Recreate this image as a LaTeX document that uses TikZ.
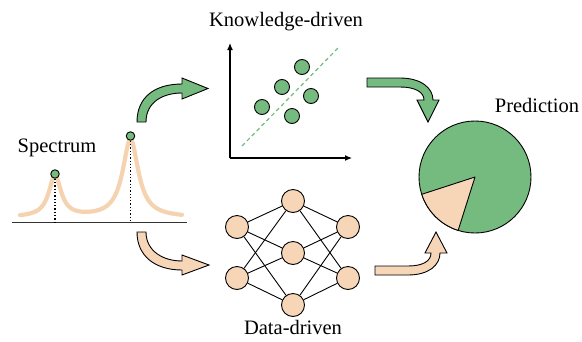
\documentclass[tikz,border=0pt]{standalone}
\usepackage{fontspec}
\setmainfont{Liberation Serif}
\usepackage{tikz}
\usetikzlibrary{arrows.meta}
\definecolor{leafgreen}{RGB}{117,186,126}
\definecolor{peach}{RGB}{247,214,184}
\definecolor{peachline}{RGB}{245,211,176}
\tikzset{
  lbl/.style={font=\fontsize{20.5}{24}\selectfont},
  dot/.style={circle,draw=black,fill=leafgreen,line width=0.9pt,minimum size=15pt,inner sep=0pt},
  peak/.style={circle,draw=black,fill=leafgreen,line width=0.9pt,minimum size=8.5pt,inner sep=0pt},
  neuron/.style={circle,draw=black,fill=peach,line width=0.9pt,minimum size=23pt,inner sep=0pt},
  blockarrow/.style={draw=black,line width=0.9pt,line join=miter}
}
\begin{document}
\begin{tikzpicture}[x=1pt,y=-1pt]
  \useasboundingbox (0,0) rectangle (582,341);
  % labels
  \node[lbl] (spec) at (57,148) {Spectrum};
  \node[lbl] (know) at (286,22) {Knowledge-driven};
  \node[lbl] (data) at (293,327) {Data-driven};
  \node[lbl] (pred) at (537,105) {Prediction};

  % spectrum
  \draw[line width=1.4pt,black!80] (12,222.5) -- (187,222.5);
  \draw[peachline,line width=4.2pt,line cap=round,smooth,samples=200,domain=20:182]
    plot (\x,{217.5-41/(1+((\x-55)/7.5)^2)-78/(1+((\x-130.5)/9.5)^2)});
  \node[peak] (p1) at (55,174) {};
  \node[peak] (p2) at (130.5,136) {};
  \coordinate (b1) at (55,222);
  \coordinate (b2) at (130.5,222);
  \draw[dotted,line width=1.3pt] (p1) -- (b1);
  \draw[dotted,line width=1.3pt] (p2) -- (b2);

  % block arrows
  \filldraw[blockarrow,fill=leafgreen] (137,122) .. controls (137,97) and (155,84) .. (182,84)
    -- (182,78) -- (208,88.5) -- (182,99) -- (182,93)
    .. controls (163,93) and (146,102) .. (146,122) -- cycle;
  \filldraw[blockarrow,fill=peach] (137,232) .. controls (137,256) and (155,270) .. (182,270)
    -- (182,275) -- (209,265) -- (182,255) -- (182,261)
    .. controls (163,261) and (146,251) .. (146,232) -- cycle;
  \filldraw[blockarrow,fill=leafgreen] (367,78) -- (400,78) .. controls (421,78) and (433,88) .. (433,100)
    -- (439,100) -- (428,122) -- (417,100) -- (424,100)
    .. controls (424,92) and (415,87) .. (400,87) -- (367,87) -- cycle;
  \filldraw[blockarrow,fill=peach] (375,275) -- (408,275) .. controls (429,275) and (440,265) .. (440,253)
    -- (447,253) -- (436,232) -- (425,253) -- (431,253)
    .. controls (431,261) and (423,266) .. (408,266) -- (375,266) -- cycle;

  % knowledge-driven scatter
  \coordinate (o) at (230,158);
  \coordinate (ytop) at (230,43);
  \coordinate (xend) at (352,158);
  \draw[line width=1.1pt,-{Latex[length=7pt,width=6pt]}] (o) -- (ytop);
  \draw[line width=1.1pt,-{Latex[length=7pt,width=6pt]}] (o) -- (xend);
  \coordinate (fit0) at (242,146);
  \coordinate (fit1) at (338,48);
  \draw[leafgreen,line width=1.2pt,dash pattern=on 4pt off 3pt] (fit0) -- (fit1);
  \node[dot] (s1) at (302,67) {};
  \node[dot] (s2) at (282,87) {};
  \node[dot] (s3) at (311,96) {};
  \node[dot] (s4) at (262,107) {};
  \node[dot] (s5) at (292,116) {};

  % data-driven network
  \node[neuron] (l1) at (237,227) {};
  \node[neuron] (l2) at (237,278) {};
  \node[neuron] (m1) at (293,201) {};
  \node[neuron] (m2) at (293,253) {};
  \node[neuron] (m3) at (293,305) {};
  \node[neuron] (r1) at (348,227) {};
  \node[neuron] (r2) at (348,278) {};
  \foreach \a in {l1,l2} {
    \foreach \b in {m1,m2,m3} {
      \draw[line width=0.9pt] (\a) -- (\b);
    }
  }
  \foreach \a in {r1,r2} {
    \foreach \b in {m1,m2,m3} {
      \draw[line width=0.9pt] (\a) -- (\b);
    }
  }

  % prediction pie
  \coordinate (c) at (475,177);
  \filldraw[fill=leafgreen,draw=black,line width=0.9pt] (c) circle[radius=56];
  \filldraw[fill=peach,draw=black,line width=0.9pt,line join=round]
    (c) -- ++(107.5:56) arc[start angle=107.5,end angle=162,radius=56] -- cycle;
\end{tikzpicture}
\end{document}
